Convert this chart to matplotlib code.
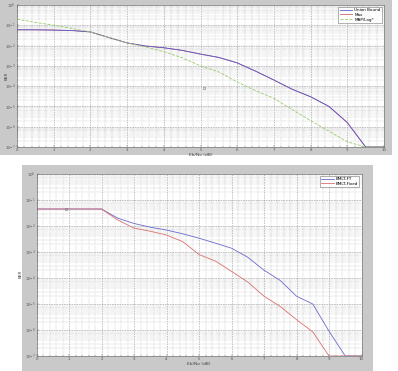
import matplotlib
matplotlib.use("Agg")
import matplotlib.pyplot as plt
import numpy as np
from matplotlib.patches import Rectangle
from matplotlib.ticker import MultipleLocator, LogLocator, NullFormatter, FixedLocator

# ---- data (top plot) ----
snr_top = [0, 0.5, 1, 1.5, 2, 2.5, 3, 3.5, 4, 4.5, 5, 5.5, 6, 6.5, 7, 7.5, 8, 8.5, 9, 9.5, 10]
union_bound = [0.06, 0.06, 0.058, 0.055, 0.047, 0.025, 0.0135, 0.0095, 0.0078, 0.0058, 0.0038, 0.0026, 0.0014, 0.00055, 0.0002, 7e-05, 3e-05, 1e-05, 1.6e-06, 1e-07, 1e-07]
max_vals = union_bound
maplog = [0.2, 0.14, 0.1, 0.07, 0.047, 0.025, 0.0135, 0.0085, 0.005, 0.0025, 0.001, 0.0005, 0.00016, 6e-05, 2.5e-05, 7e-06, 2e-06, 6e-07, 1.8e-07, 1e-07, 1e-07]

# ---- data (bottom plot) ----
snr_bot = [0, 0.5, 1, 1.5, 2, 2.5, 3, 3.5, 4, 4.5, 5, 5.5, 6, 6.5, 7, 7.5, 8, 8.5, 9, 9.5, 10]
bmlt_ft = [0.045, 0.045, 0.045, 0.045, 0.045, 0.02, 0.0125, 0.009, 0.007, 0.005, 0.0034, 0.0022, 0.0014, 0.00063, 0.0002, 8e-05, 2e-05, 1e-05, 9e-07, 1e-07, 1e-07]
bmlt_fixed = [0.045, 0.045, 0.045, 0.045, 0.045, 0.017, 0.0083, 0.0063, 0.0045, 0.0025, 0.0008, 0.00045, 0.00018, 7e-05, 2e-05, 8e-06, 2.5e-06, 8.5e-07, 1e-07, 1e-07, 1e-07]

xticks = list(range(0, 11))
yticks = [1e-7, 1e-6, 1e-5, 1e-4, 1e-3, 1e-2, 1e-1, 1e0]
ytick_labels = [r"$10^{-7}$", r"$10^{-6}$", r"$10^{-5}$", r"$10^{-4}$", r"$10^{-3}$", r"$10^{-2}$", r"$10^{-1}$", r"$10^{0}$"]

W, H = 398, 371
fig = plt.figure(figsize=(W / 100, H / 100), dpi=100)
fig.patch.set_facecolor("white")

gray = "#c9c9c9"
def frac_rect(x0, y0, x1, y1):
    return (x0 / W, 1 - y1 / H, (x1 - x0) / W, (y1 - y0) / H)

for box in [(0, 0, 392, 155), (22, 165, 373, 371)]:
    fx, fy, fw, fh = frac_rect(*box)
    fig.add_artist(Rectangle((fx, fy), fw, fh, transform=fig.transFigure,
                             facecolor=gray, edgecolor="none", zorder=-10))

ax1 = fig.add_axes(frac_rect(17, 5, 384, 147))
ax2 = fig.add_axes(frac_rect(36.5, 174, 361.5, 356))
ax1.set_zorder(5)
ax2.set_zorder(5)

def style(ax):
    ax.set_yscale("log")
    ax.set_xlim(0, 10)
    ax.set_ylim(1e-7, 1)
    ax.set_xticks(xticks)
    ax.set_xticklabels([str(t) for t in xticks])
    ax.yaxis.set_major_locator(FixedLocator(yticks))
    ax.set_yticklabels(ytick_labels)
    ax.yaxis.set_minor_locator(LogLocator(base=10, subs=np.arange(2, 10)))
    ax.yaxis.set_minor_formatter(NullFormatter())
    ax.xaxis.set_minor_locator(MultipleLocator(0.2))
    ax.tick_params(which="both", labelsize=2.8, length=1.5, width=0.3, pad=0.8, direction="in", colors="#555555")
    ax.tick_params(which="minor", length=0.8)
    ax.grid(True, which="major", ls=":", color="#707070", lw=0.45)
    ax.grid(True, which="minor", ls=":", color="#9a9a9a", lw=0.32)
    for s in ax.spines.values():
        s.set_linewidth(0.4)
        s.set_color("#666666")
    ax.set_facecolor("white")

style(ax1)
style(ax2)

ax1.plot(snr_top, max_vals, color="#d06868", lw=0.6, label="Max")
ax1.plot(snr_top, union_bound, color="#5a5ad0", lw=0.6, label="Union Bound")
ax1.plot(snr_top, maplog, color="#9acb6a", lw=0.6, ls="--", label="MAP/Log*")
handles, labels = ax1.get_legend_handles_labels()
order = [1, 0, 2]
leg1 = ax1.legend([handles[i] for i in order], [labels[i] for i in order], loc="upper right",
                  fontsize=3.0, frameon=True, fancybox=False, edgecolor="#555555",
                  handlelength=3, borderpad=0.3, labelspacing=0.15, handletextpad=0.5)
leg1.get_frame().set_linewidth(0.4)
ax1.plot([5.1], [8e-5], marker="s", ms=2, mfc="none", mec="#777777", mew=0.4)
ax1.set_xlabel("Eb/No (dB)", fontsize=3.2, labelpad=0.5, color="#444444")
ax1.set_ylabel("BER", fontsize=3.0, color="#444444")
ax1.yaxis.set_label_coords(-0.024, 0.5)

ax2.plot(snr_bot, bmlt_ft, color="#6a6ad0", lw=0.6, label="BMLT-FT")
ax2.plot(snr_bot, bmlt_fixed, color="#d87070", lw=0.6, label="BMLT-Fixed")
leg2 = ax2.legend(loc="upper right", fontsize=3.0, frameon=True, fancybox=False,
                  edgecolor="#555555", handlelength=3, borderpad=0.3, labelspacing=0.15,
                  handletextpad=0.5)
leg2.get_frame().set_linewidth(0.4)
ax2.plot([0.9], [0.045], marker="s", ms=2, mfc="none", mec="#777777", mew=0.4)
ax2.set_xlabel("Eb/No (dB)", fontsize=3.2, labelpad=0.5, color="#444444")
ax2.set_ylabel("BER", fontsize=3.0, color="#444444")
ax2.yaxis.set_label_coords(-0.042, 0.45)

fig.savefig("out.png", dpi=100, facecolor=fig.get_facecolor())
